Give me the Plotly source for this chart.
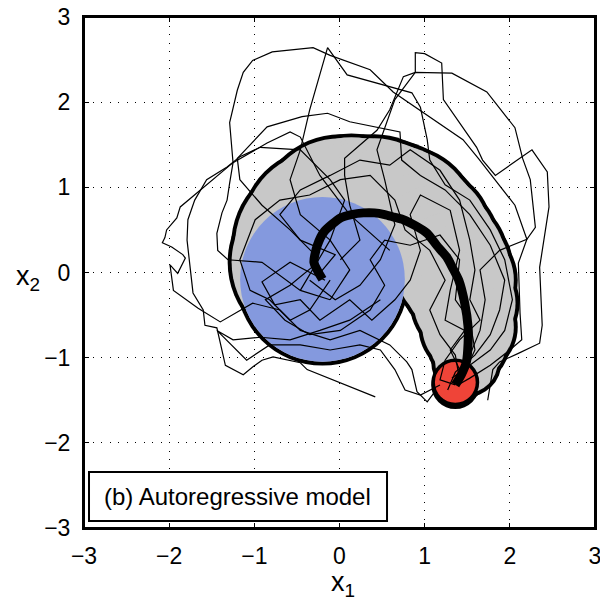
import plotly.graph_objects as go

# ---- mean trajectory (thick line) and tube radius ----
mean_x = [-0.20, -0.30, -0.26, -0.18, 0.01, 0.14, 0.28, 0.41, 0.53, 0.64, 0.75, 0.89, 1.03, 1.14, 1.26, 1.33, 1.40, 1.47, 1.51, 1.51, 1.49, 1.43, 1.36]
mean_y = [-0.08, 0.12, 0.32, 0.48, 0.64, 0.68, 0.70, 0.70, 0.68, 0.65, 0.62, 0.55, 0.46, 0.32, 0.18, 0.05, -0.09, -0.36, -0.64, -0.83, -1.05, -1.20, -1.32]
tube_r = [0.99, 0.99, 0.99, 0.97, 0.96, 0.93, 0.90, 0.90, 0.88, 0.87, 0.85, 0.79, 0.75, 0.73, 0.70, 0.69, 0.67, 0.62, 0.56, 0.47, 0.39, 0.29, 0.26]

# initial (blue) and target (red) distributions
start_center = (-0.20, -0.08)
start_radius = 0.967
target_center = (1.36, -1.29)
target_radius = 0.26

# ---- sample trajectories (thin lines) ----
walks = [
    ([-0.11,-0.46,-0.91,-1.31,-1.43,-1.44,-1.38,-1.32,-1.29,-1.25,-1.29,-1.20,-1.13,-1.02,-0.79,-0.31,-0.11,0.36,0.63,1.06,1.45,1.63,1.83,2.06,2.20,2.10,2.12,2.14,2.00,1.77,1.53,1.39],
     [-0.32,-0.21,0.12,0.15,0.26,0.46,0.70,0.85,1.05,1.29,1.76,2.14,2.35,2.49,2.59,2.64,2.55,2.38,2.12,1.83,1.56,1.34,1.09,0.79,0.39,0.11,-0.48,-0.79,-0.91,-1.09,-1.24,-1.32]),
    ([-0.29,-0.58,-0.91,-1.17,-1.20,-0.85,-0.44,-0.14,0.12,0.71,0.73,0.95,1.24,1.53,1.77,1.94,1.88,1.77,1.59,1.36,1.27],
     [0.21,0.50,0.79,1.09,1.34,1.71,1.83,1.87,1.77,1.65,1.32,1.14,0.97,0.68,0.32,-0.09,-0.44,-0.73,-0.97,-1.17,-1.38]),
    ([0.59,0.12,-0.23,-0.46,-0.58,-0.85,-1.25,-1.60,-1.87,-1.91,-2.03,-2.05,-2.08,-1.97,-1.84,-1.81,-1.90,-1.99,-1.95,-1.66,-1.40,-1.02,-0.70,-0.46,-0.11,0.24,0.59,0.79,0.85,0.91,1.03,1.12],
     [0.26,0.68,1.14,1.59,1.65,1.52,1.29,1.00,0.77,0.64,0.50,0.41,0.35,0.30,0.21,0.17,-0.01,0.09,-0.21,-0.42,-0.58,-0.36,-0.44,-0.68,-0.79,-0.68,-0.85,-1.05,-1.14,-1.40,-1.52,-1.40]),
    ([-0.46,-0.11,0.06,-0.11,-0.46,-0.93,-1.17,-1.32,-1.56,-1.70,-1.78,-1.79,-1.72,-1.60,-1.58,-1.44,-1.34,-1.13,-1.02,-0.91,-0.78,-0.46,-0.38,0.01,0.42],
     [-0.21,0.38,0.85,1.09,1.44,1.47,1.36,1.24,1.09,0.85,0.62,0.38,-0.24,-0.44,-0.62,-0.65,-1.09,-1.20,-1.11,-1.03,-0.99,-1.06,-1.14,-1.30,-1.46]),
    ([0.01,0.24,0.12,0.06,0.06,0.44,0.59,0.75,0.89,1.32,1.73,2.06,2.15,2.24,2.30,2.20,1.88,1.65,1.71,1.65,1.53,1.39],
     [0.15,0.38,0.79,1.14,1.34,1.67,1.91,2.30,2.35,2.34,2.12,1.70,1.34,1.09,0.53,0.39,0.26,0.03,-0.32,-0.68,-0.97,-1.24]),
    ([-0.11,0.12,-0.11,-0.46,-0.58,-0.46,-0.35,-0.25,-0.14,0.09,0.39,0.85,0.95,1.03,1.06,1.24,1.53,1.77,1.94,2.03,1.94,1.77,1.53,1.32],
     [-0.32,0.03,0.38,0.68,1.09,1.44,1.91,2.26,2.64,2.32,2.24,2.11,1.94,1.56,1.32,1.03,0.85,0.50,0.15,-0.32,-0.68,-0.91,-1.09,-1.24]),
    ([-0.35,-0.05,0.24,0.48,0.65,0.53,0.44,0.65,0.89,0.89,1.00,1.20,1.22,1.41,1.61,1.68,1.83,2.26,2.44,2.46,2.39,2.35,2.38,2.35,2.10,1.88,1.80,1.74],
     [-0.09,-0.32,-0.15,0.15,0.56,1.09,1.44,2.03,2.35,2.58,2.57,2.46,2.03,1.76,1.47,1.32,1.14,1.44,1.18,0.77,0.35,0.06,-0.62,-0.83,-0.95,-1.05,-1.14,-1.50]),
    ([0.48,0.12,-0.23,-0.58,-0.93,-1.25,-1.44,-1.09,-0.82,-0.46,-0.11,0.24,0.48,0.65,0.77,0.95,1.18],
     [-0.32,-0.56,-0.68,-0.79,-0.76,-0.79,-0.68,-1.03,-0.85,-0.85,-0.91,-0.85,-0.91,-1.14,-1.38,-1.44,-1.32]),
    ([-0.25,-0.05,-0.46,-0.70,-0.46,-0.11,0.24,0.59,0.83,1.18,1.41,1.53,1.59,1.53,1.65,1.41,1.24,1.18,1.36],
     [-0.03,0.21,0.38,0.68,0.97,1.14,1.32,1.26,1.44,1.20,0.85,0.38,0.03,-0.32,-0.56,-0.79,-1.03,-1.26,-1.32]),
    ([-0.11,-0.35,-0.58,-0.82,-1.05,-1.17,-0.99,-0.70,-0.35,0.01,0.36,0.65,0.77,1.06,1.24,1.06,1.18,1.36,1.41],
     [-0.09,-0.44,-0.56,-0.32,-0.21,0.15,0.62,0.85,0.91,1.09,1.14,0.85,0.50,0.26,-0.09,-0.44,-0.73,-0.97,-1.26]),
    ([-0.17,-0.58,-0.91,-0.76,-0.46,-0.23,0.12,0.38,0.65,0.83,0.95,0.83,0.95,1.30,1.41,1.30,1.24,1.47,1.30,1.41],
     [-0.09,0.12,-0.11,-0.38,-0.32,-0.56,-0.32,-0.56,-0.32,-0.09,0.26,0.68,0.91,0.73,0.26,-0.21,-0.56,-0.68,-0.91,-1.14]),
    ([-0.29,-0.58,-0.87,-0.64,-0.35,0.01,0.36,0.53,0.36,0.53,0.83,1.18,1.41,1.36,1.53,1.59,1.47],
     [0.09,-0.15,-0.32,-0.56,-0.73,-0.68,-0.44,-0.15,0.15,0.38,0.32,0.44,0.15,-0.32,-0.56,-0.91,-1.17]),
]

tick_vals = [-3, -2, -1, 0, 1, 2, 3]
tick_text = ["\u22123", "\u22122", "\u22121", "0", "1", "2", "3"]
panel_label = "(b) Autoregressive model"

GRAY = "#c8c8c8"
BLUE = "#8499de"
RED = "#ef4438"
edge = 0.023  # half outline thickness in data units

shapes = []
# outline: black discs slightly larger, then gray discs slightly smaller
for cx, cy, r in zip(mean_x, mean_y, tube_r):
    rr = r + edge
    shapes.append(dict(type="circle", xref="x", yref="y", layer="between",
                       x0=cx - rr, x1=cx + rr, y0=cy - rr, y1=cy + rr,
                       fillcolor="black", line=dict(width=0)))
for cx, cy, r in zip(mean_x, mean_y, tube_r):
    rr = r - edge
    shapes.append(dict(type="circle", xref="x", yref="y", layer="between",
                       x0=cx - rr, x1=cx + rr, y0=cy - rr, y1=cy + rr,
                       fillcolor=GRAY, line=dict(width=0)))
# initial distribution
shapes.append(dict(type="circle", xref="x", yref="y", layer="between",
                   x0=start_center[0] - start_radius, x1=start_center[0] + start_radius,
                   y0=start_center[1] - start_radius, y1=start_center[1] + start_radius,
                   fillcolor=BLUE, line=dict(width=0)))
# target distribution
shapes.append(dict(type="circle", xref="x", yref="y", layer="between",
                   x0=target_center[0] - target_radius, x1=target_center[0] + target_radius,
                   y0=target_center[1] - target_radius, y1=target_center[1] + target_radius,
                   fillcolor=RED, line=dict(color="black", width=3.5)))
# plot frame
shapes.append(dict(type="rect", xref="paper", yref="paper", layer="above",
                   x0=0, x1=1, y0=0, y1=1,
                   fillcolor="rgba(0,0,0,0)", line=dict(color="black", width=2)))
# panel label box
shapes.append(dict(type="rect", xref="paper", yref="paper", layer="above",
                   x0=0.0098, x1=0.593, y0=0.0137, y1=0.1096,
                   fillcolor="white", line=dict(color="black", width=2)))

fig = go.Figure()
for wx, wy in walks:
    fig.add_trace(go.Scatter(x=wx, y=wy, mode="lines",
                             line=dict(color="black", width=1.2),
                             hoverinfo="skip", showlegend=False))
fig.add_trace(go.Scatter(x=mean_x, y=mean_y, mode="lines",
                         line=dict(color="black", width=9, shape="spline", smoothing=0.6),
                         hoverinfo="skip", showlegend=False))

FONT = "Liberation Sans, Arial, Helvetica, sans-serif"
axis_common = dict(range=[-3, 3], tickvals=tick_vals, ticktext=tick_text, automargin=False,
                   ticklabeloverflow="allow",
                   showgrid=True, gridcolor="black", gridwidth=1, griddash="1px,7.5px",
                   zeroline=False, showline=True, linecolor="black", linewidth=2,
                   mirror="ticks", ticks="inside", ticklen=5, tickwidth=1, tickcolor="black",
                   tickfont=dict(family=FONT, size=23, color="black"))

fig.update_layout(
    width=600, height=601,
    margin=dict(l=84, r=5, t=17, b=73, pad=0),
    paper_bgcolor="white", plot_bgcolor="white",
    xaxis=dict(**axis_common, ticklabelstandoff=6),
    yaxis=dict(**axis_common, ticklabelstandoff=7),
    shapes=shapes,
    annotations=[
        dict(text=panel_label, xref="paper", yref="paper", x=0.301, y=0.0607,
             showarrow=False, xanchor="center", yanchor="middle",
             font=dict(family=FONT, size=24, color="black")),
        dict(text="x<sub>1</sub>", xref="paper", yref="paper", x=0.507, y=-0.11,
             showarrow=False, xanchor="center", yanchor="middle",
             font=dict(family=FONT, size=27, color="black")),
        dict(text="x<sub>2</sub>", xref="paper", yref="paper", x=-0.11, y=0.489,
             showarrow=False, xanchor="center", yanchor="middle",
             font=dict(family=FONT, size=27, color="black")),
    ],
)

# remove the default page margin so the 600x601 figure fills the window exactly
fig.write_html("out.html",
               config={"displayModeBar": False},
               post_script="document.body.style.margin='0';document.body.style.overflow='hidden';")
